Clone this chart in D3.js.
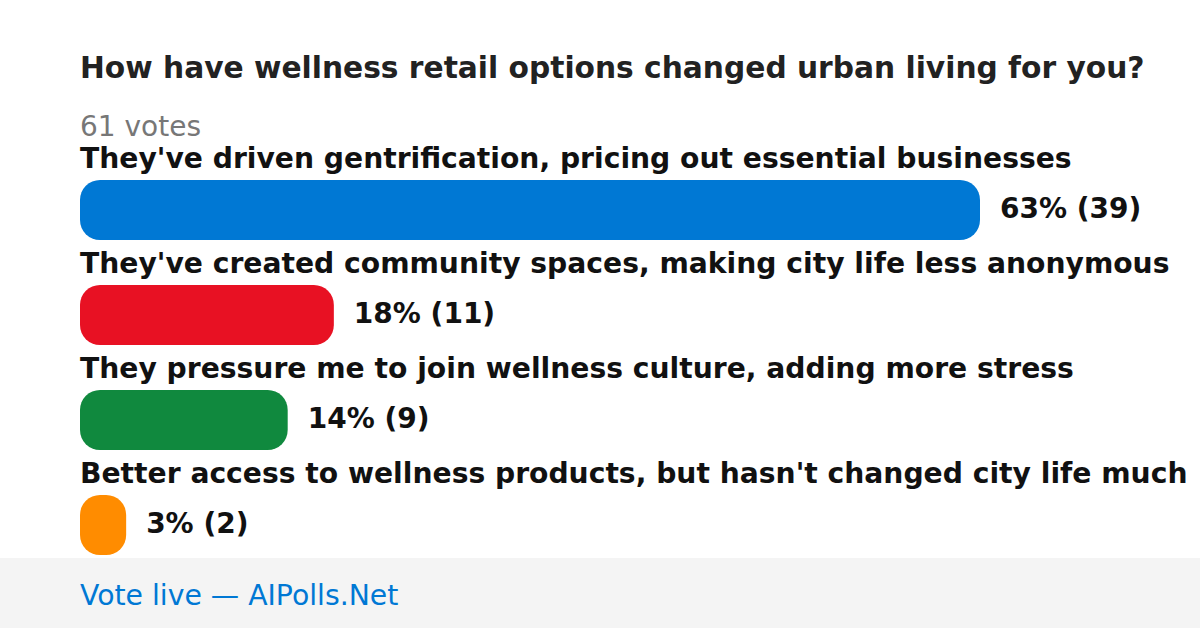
<!DOCTYPE html>
<html><head><meta charset="utf-8">
<script src="https://cdn.jsdelivr.net/npm/d3@7"></script>
<style>html,body{margin:0;padding:0;background:#fff;}svg{display:block;}</style>
</head><body>
<script>
const title = "How have wellness retail options changed urban living for you?";
const totalVotes = 61;
const categories = [
  "They've driven gentrification, pricing out essential businesses",
  "They've created community spaces, making city life less anonymous",
  "They pressure me to join wellness culture, adding more stress",
  "Better access to wellness products, but hasn't changed city life much"
];
const votes = [39, 11, 9, 2];
const percents = [63, 18, 14, 3];
const colors = ["#0078d4", "#e81123", "#10893e", "#ff8c00"];
const footerText = "Vote live — AIPolls.Net";

const W = 1200, H = 628;
const svg = d3.select("body").append("svg").attr("width", W).attr("height", H);
const font = "'DejaVu Sans', sans-serif";

svg.append("rect").attr("x",0).attr("y",0).attr("width",W).attr("height",H).attr("fill","#fff");

svg.append("text").attr("x",80).attr("y",78).attr("font-family",font).attr("font-weight","bold")
  .attr("font-size",29.7).attr("fill","#222").text(title);
svg.append("text").attr("x",80).attr("y",136).attr("font-family",font)
  .attr("font-size",28).attr("fill","#777").text(totalVotes + " votes");

const x = d3.scaleLinear().domain([0, d3.max(votes)]).range([0, 900]);
const y = d3.scaleBand().domain(d3.range(categories.length)).range([145, 565]).paddingInner(0).paddingOuter(0);

const g = svg.append("g");
const rows = g.selectAll("g.row").data(categories).join("g").attr("class","row")
  .attr("transform",(d,i)=>`translate(0,${y(i)})`);

rows.append("text").attr("x",80).attr("y",23).attr("font-family",font).attr("font-weight","bold")
  .attr("font-size",28.2).attr("fill","#111").text(d=>d);

rows.append("rect").attr("x",80).attr("y",35).attr("height",60)
  .attr("width",(d,i)=>Math.max(x(votes[i]), 46)).attr("rx",20).attr("ry",20)
  .attr("fill",(d,i)=>colors[i]);

rows.append("text").attr("x",(d,i)=>80 + Math.max(x(votes[i]),46) + 20).attr("y",65)
  .attr("dominant-baseline","middle").attr("font-family",font).attr("font-weight","bold")
  .attr("font-size",28).attr("fill","#111").text((d,i)=>`${percents[i]}% (${votes[i]})`);

svg.append("rect").attr("x",0).attr("y",558).attr("width",W).attr("height",70).attr("fill","#f4f4f4");
svg.append("text").attr("x",80).attr("y",605).attr("font-family",font)
  .attr("font-size",28.3).attr("fill","#0078d4").text(footerText);
</script>
</body></html>
